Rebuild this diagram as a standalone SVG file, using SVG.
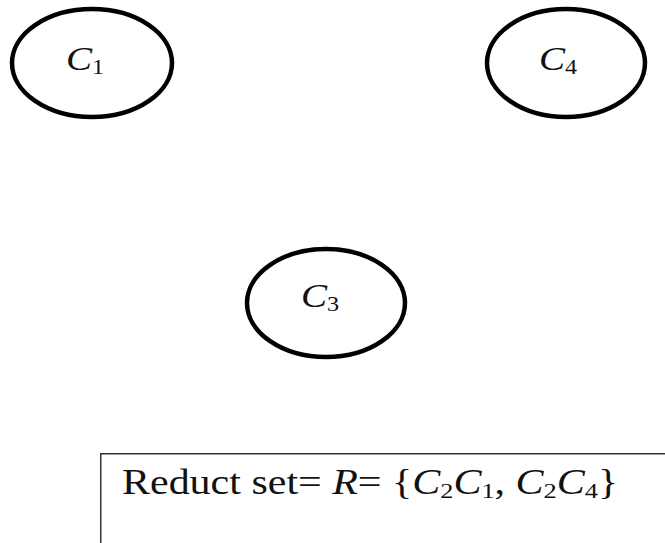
<svg xmlns="http://www.w3.org/2000/svg" width="665" height="543" viewBox="0 0 665 543">
<style>
.node{fill:#fff;stroke:#000;stroke-width:4.5}
.lbl{font-family:"Liberation Serif","Times New Roman",serif;font-style:italic;font-size:34px;fill:#111}
.sub{font-style:normal;font-size:21px}
.box{fill:#fff;stroke:#333;stroke-width:1.5}
.txt{font-family:"Liberation Serif","Times New Roman",serif;font-size:35px;fill:#111}
</style>
<rect width="665" height="543" fill="#fff"/>
<g id="connectors"></g>
<g id="C1">
<ellipse class="node" cx="92" cy="63" rx="80" ry="54"/>
<text class="lbl" transform="translate(66,70) scale(1.15,1)">C<tspan class="sub" dy="4">1</tspan></text>
</g>
<g id="C4">
<ellipse class="node" cx="566" cy="63" rx="79" ry="54"/>
<text class="lbl" transform="translate(539,70) scale(1.15,1)">C<tspan class="sub" dy="4">4</tspan></text>
</g>
<g id="C3">
<ellipse class="node" cx="326" cy="303" rx="79" ry="54"/>
<text class="lbl" transform="translate(301,307) scale(1.15,1)">C<tspan class="sub" dy="4">3</tspan></text>
</g>
<g id="reduct">
<rect class="box" x="100.75" y="453.75" width="580" height="100"/>
<text class="txt" transform="translate(122,494) scale(1.2,1)">Reduct set= <tspan font-style="italic">R</tspan>= {<tspan font-style="italic">C</tspan><tspan font-size="22" dy="4">2</tspan><tspan font-style="italic" dy="-4">C</tspan><tspan font-size="22" dy="4">1</tspan><tspan dy="-4">, </tspan><tspan font-style="italic">C</tspan><tspan font-size="22" dy="4">2</tspan><tspan font-style="italic" dy="-4">C</tspan><tspan font-size="22" dy="4">4</tspan><tspan dy="-4">}</tspan></text>
</g>
</svg>
